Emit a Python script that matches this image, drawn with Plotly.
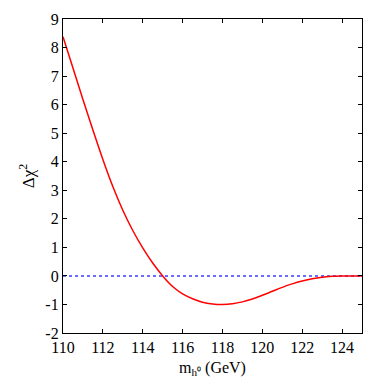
import plotly.graph_objects as go

# Data
mass = [110.0, 110.5, 111.0, 111.5, 112.0, 112.5, 113.0, 113.5, 114.0, 114.5,
        115.0, 115.5, 116.0, 116.5, 117.0, 117.5, 118.0, 118.5, 119.0, 119.5,
        120.0, 120.5, 121.0, 121.5, 122.0, 122.5, 123.0, 123.5, 124.0, 124.5, 125.0]
delta_chi2 = [8.38, 7.28, 6.18, 5.11, 4.08, 3.13, 2.30, 1.59, 0.98, 0.45,
              0.0, -0.37, -0.63, -0.80, -0.92, -0.98, -1.0, -0.975, -0.91, -0.81,
              -0.68, -0.54, -0.40, -0.28, -0.18, -0.10, -0.045, -0.015, -0.004, 0.0, 0.0]
ref_x = [110, 125]
ref_y = [0, 0]

x_ticks = [110, 112, 114, 116, 118, 120, 122, 124]
y_ticks = [-2, -1, 0, 1, 2, 3, 4, 5, 6, 7, 8, 9]

font_family = "Liberation Serif, Times New Roman, serif"

fig = go.Figure()
fig.add_trace(go.Scatter(x=ref_x, y=ref_y, mode="lines",
                         line=dict(color="rgb(60,60,255)", width=1.5, dash="dot"),
                         showlegend=False))
fig.add_trace(go.Scatter(x=mass, y=delta_chi2, mode="lines",
                         line=dict(color="red", width=1.5, shape="spline", smoothing=1.0),
                         showlegend=False))

axis_common = dict(showgrid=False, zeroline=False, showline=True, linecolor="black",
                   linewidth=1.3, mirror="ticks", ticks="inside", ticklen=4,
                   tickcolor="black", tickwidth=1, automargin=False,
                   tickfont=dict(family=font_family, size=16, color="black"))

fig.update_xaxes(range=[110, 125], tickvals=x_ticks, ticktext=[str(v) for v in x_ticks],
                 title=dict(text="m<sub>h⁰</sub> (GeV)", standoff=6,
                            font=dict(family=font_family, size=16, color="black")),
                 **axis_common)
fig.update_yaxes(range=[-2, 9], tickvals=y_ticks, ticktext=[str(v) for v in y_ticks],
                 title=dict(text="Δχ<sup>2</sup>", standoff=6,
                            font=dict(family=font_family, size=17, color="black")),
                 **axis_common)

fig.update_layout(width=390, height=382, margin=dict(l=63, r=28, t=19, b=49),
                  paper_bgcolor="white", plot_bgcolor="white",
                  font=dict(family=font_family, color="black"))

fig.write_html("out.html", config={"displayModeBar": False},
               post_script="document.body.style.margin='0';document.body.style.overflow='hidden';")
